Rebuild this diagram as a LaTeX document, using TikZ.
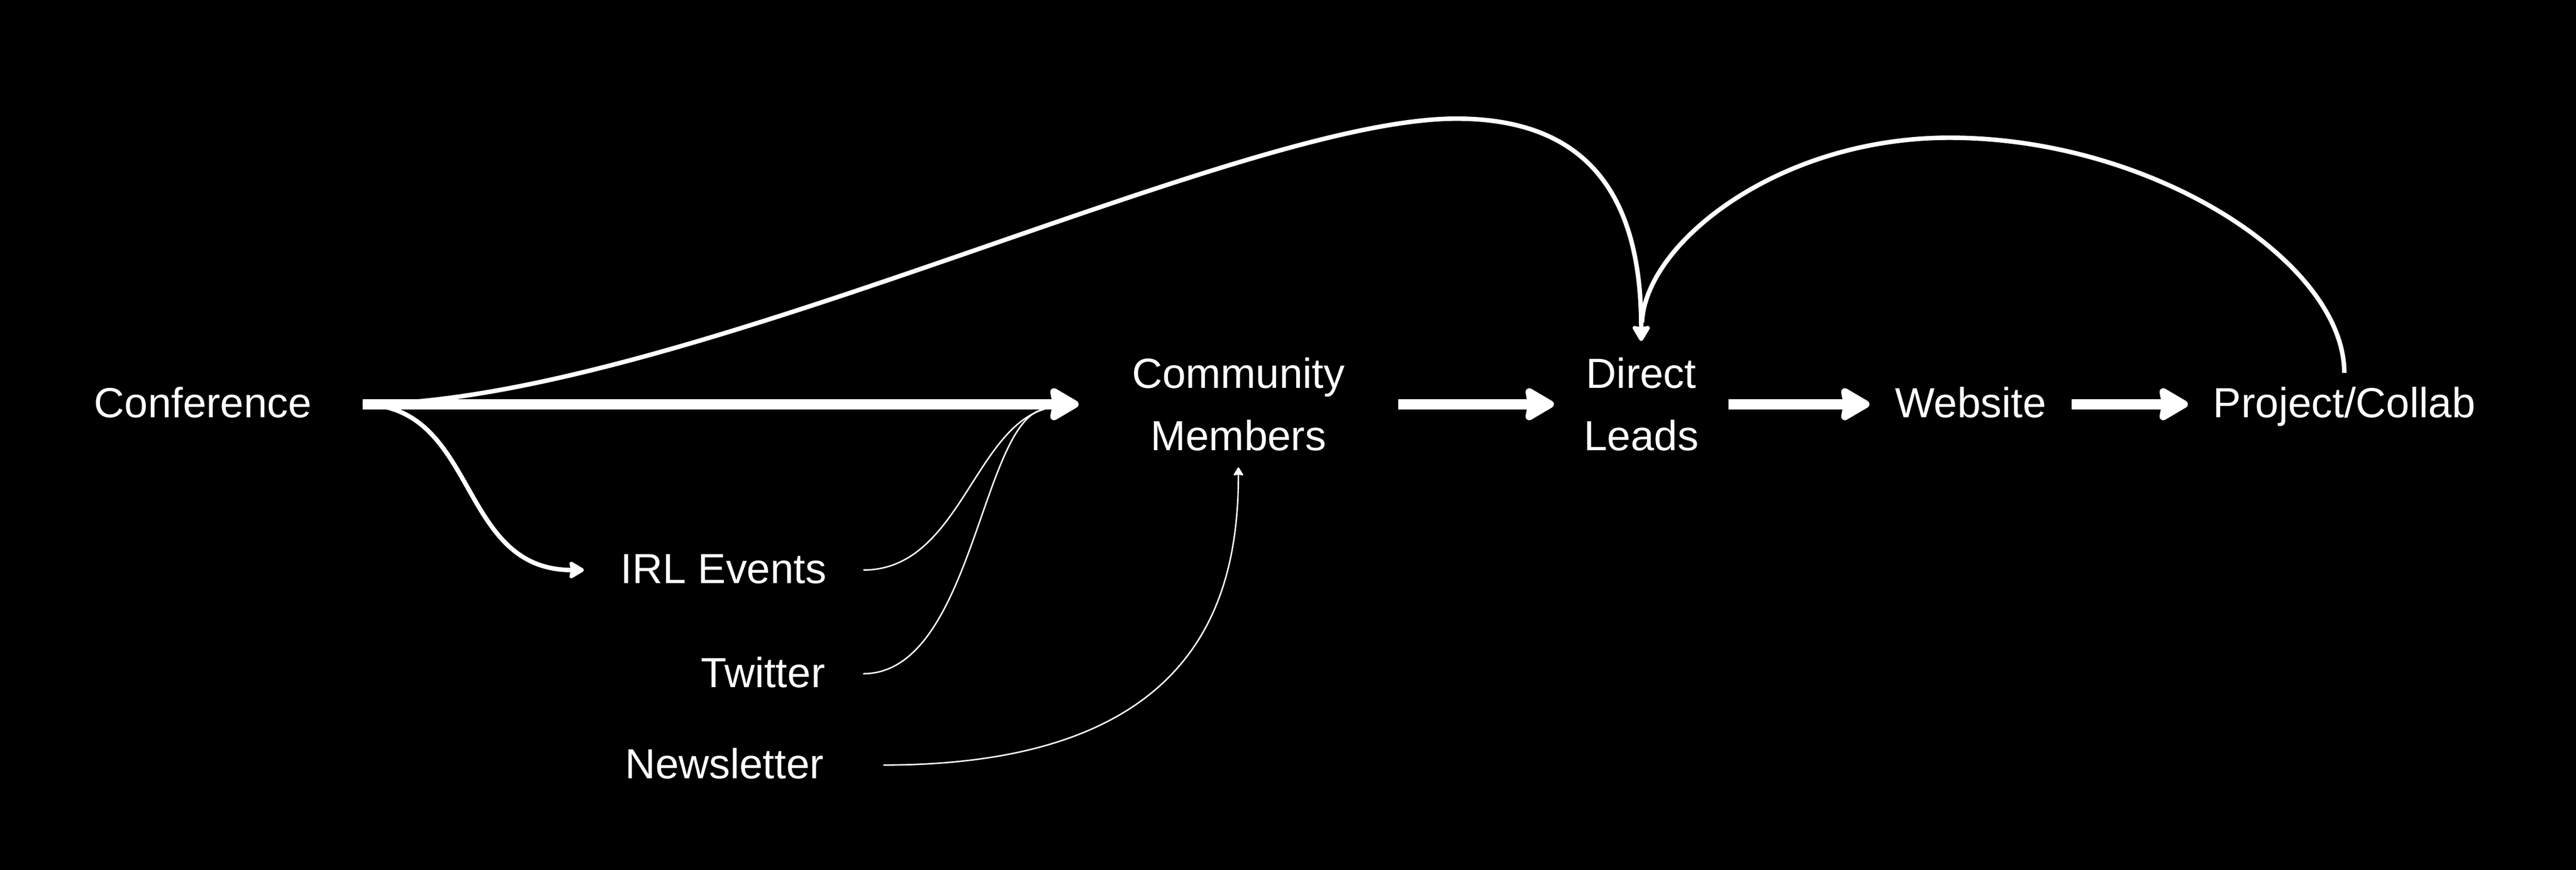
\documentclass[tikz,border=0pt]{standalone}
\usepackage{fontspec}
\setmainfont{Liberation Sans}
\usetikzlibrary{arrows.meta}

\tikzset{
  lbl/.style={text=white, inner sep=0pt, font=\fontsize{32}{47.5}\selectfont},
  one/.style={lbl, text height=0.72cm, text depth=0cm},
  two/.style={lbl, align=center, minimum height=3.36cm},
  flow/.style={white, line width=7.7pt, -{Stealth[length=0.88cm, width=1cm, inset=0.08cm, round]}},
  arcline/.style={white, line width=3.4pt},
  feedline/.style={white, line width=1.1pt},
}

\begin{document}
\begin{tikzpicture}
    \fill [black] (0,0) rectangle (68.81,23.24);% background

    % main row
    \node [one, minimum width=8.52cm] (conf) at (5.42,12.44) {Conference};
    \node [two, minimum width=8.52cm] (comm) at (33.08,12.44) {Community\\Members};
    \node [two, minimum width=4.65cm] (lead) at (43.84,12.44) {Direct\\Leads};
    \node [one, minimum width=5.39cm] (web) at (52.64,12.44) {Website};
    \node [one, minimum width=8.34cm, minimum height=1.66cm] (proj) at (62.62,12.44) {Project/Collab};

    % channels below
    \node [one, minimum width=7.45cm] (irl) at (19.33,8.01) {IRL Events};
    \node [one, minimum width=5.34cm] (tw) at (20.38,5.24) {Twitter};
    \node [one, minimum width=8.48cm] (news) at (19.35,2.80) {Newsletter};
    \coordinate (join) at (27.9,12.31);

    \draw [flow] (conf.east) -- (comm.west);
    \draw [flow] (comm.east) -- (lead.west);
    \draw [flow] (lead.east) -- (web.west);
    \draw [flow] (web.east) -- (proj.west);

    \draw [arcline, -{Stealth[length=0.47cm, width=0.54cm, inset=0.05cm, round]}] (conf.east) .. controls (18,12.46) and (33,20.07) .. (38.9,20.07) .. controls (43,20.07) and (43.84,17.24) .. (lead.north);
    \draw [arcline, shorten >=0.5cm] (proj.north) .. controls (62.62,16.24) and (57.5,19.56) .. (52.07,19.56) .. controls (47.5,19.56) and (43.95,16.74) .. (lead.north);
    \draw [arcline, -{Stealth[length=0.45cm, width=0.52cm, inset=0.05cm, round]}] (conf.east) .. controls (12.8,12.39) and (12.2,8.01) .. (irl.west);

    \draw [feedline] (irl.east) .. controls (25.6,8.01) and (26,11.74) .. (join);
    \draw [feedline] (tw.east) .. controls (26,5.24) and (26.2,12.04) .. (join);
    \draw [feedline, -{Stealth[length=0.24cm, width=0.29cm, inset=0.03cm, round]}] (news.east) .. controls (32,2.80) and (33.08,7.24) .. (comm.south);
\end{tikzpicture}
\end{document}
